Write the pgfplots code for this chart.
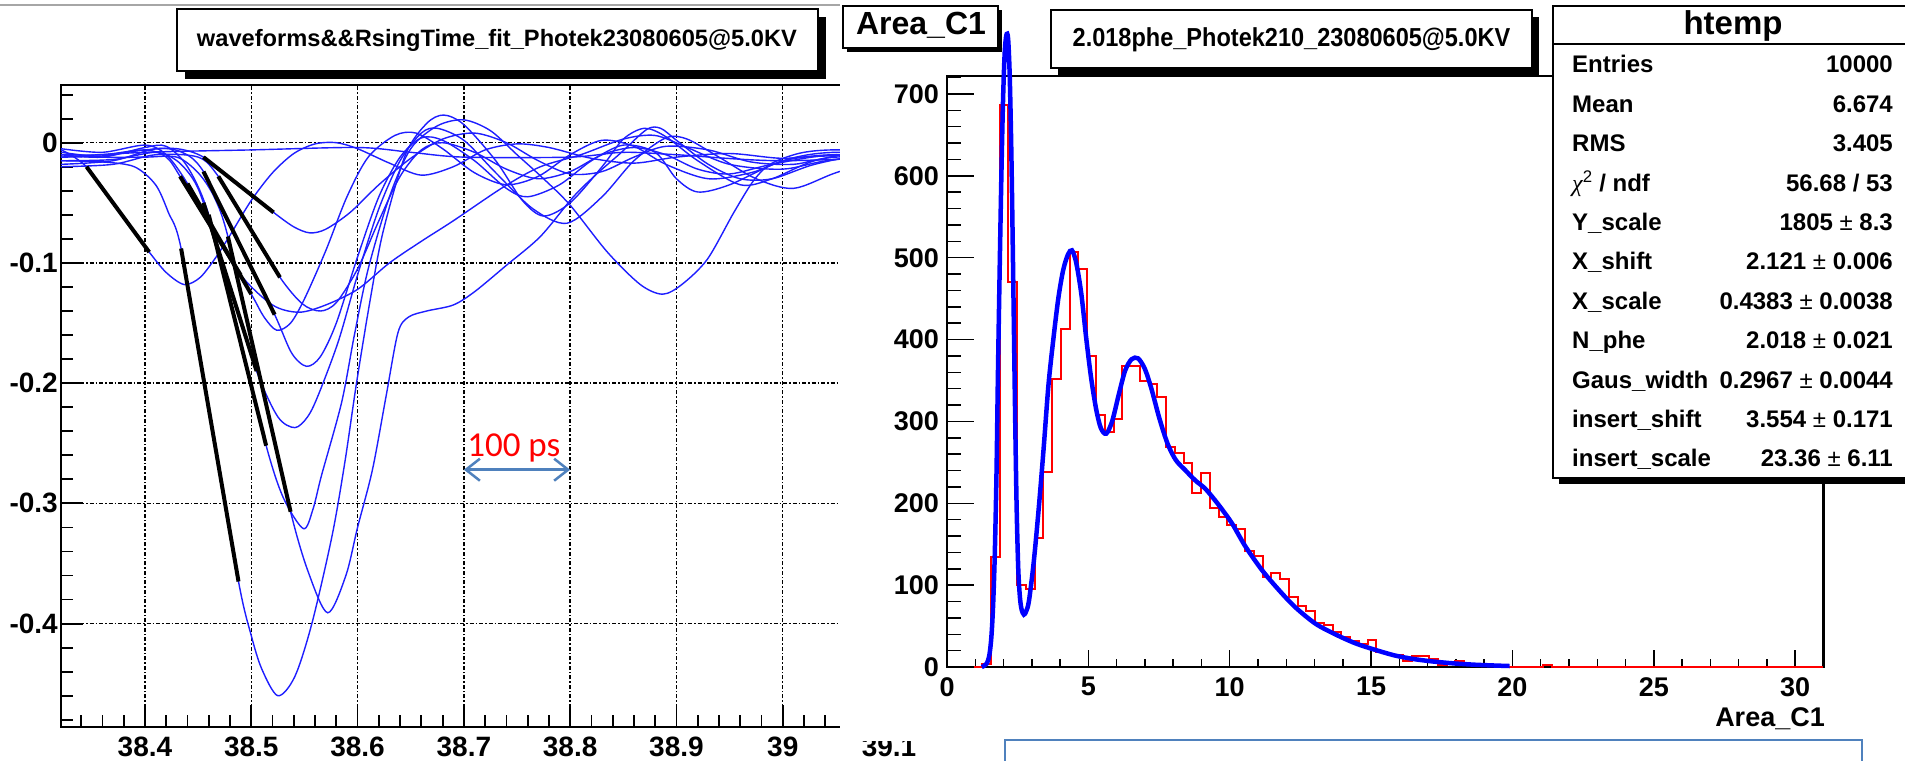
\documentclass[border=0pt]{standalone}
\usepackage{pgfplots}
\pgfplotsset{compat=1.18}
\usetikzlibrary{arrows.meta}
\usepackage{fontspec}
\setmainfont{Liberation Sans}
\newfontfamily\carlito{Carlito}
\newfontfamily\lserif{Liberation Serif}
\definecolor{wave}{RGB}{30,30,255}
\definecolor{steel}{RGB}{79,129,189}
\definecolor{fitblue}{RGB}{0,0,255}
\pgfplotsset{wv/.style={color=wave, line width=1.4pt, smooth, mark=none, solid},
             fl/.style={color=black, line width=4pt, mark=none, solid}}
\begin{document}
\begin{tikzpicture}[x=1pt,y=1pt]
\useasboundingbox (0,0) rectangle (1905,760);
\fill[white] (0,0) rectangle (1905,760);
% ---------------- left panel ----------------
\begin{axis}[
  at={(61pt,33pt)}, anchor=south west, scale only axis,
  width=881.2pt, height=642pt,
  xmin=38.321, xmax=39.15, ymin=-0.486, ymax=0.048,
  xtick={38.4,38.5,38.6,38.7,38.8,38.9,39.0,39.1},
  xticklabels={38.4,38.5,38.6,38.7,38.8,38.9,39,39.1},
  minor xtick={38.34,38.36,...,39.14},
  ytick={-0.4,-0.3,-0.2,-0.1,0},
  yticklabels={-0.4,-0.3,-0.2,-0.1,0},
  minor ytick={-0.48,-0.46,...,0.04},
  grid=major,
  major grid style={black, line width=1.4pt, dash pattern=on 4pt off 2pt on 1.5pt off 2pt},
  tick align=inside, xtick pos=left, ytick pos=left,
  major tick length=22pt, minor tick length=12pt,
  every tick/.style={black, line width=1.8pt},
  axis line style={line width=2.5pt},
  tick label style={font=\fontsize{28}{32}\selectfont\bfseries},
  xticklabel style={inner sep=0pt, anchor=north, yshift=-10pt},
  yticklabel style={inner sep=0pt, anchor=east, xshift=-3pt},
]
% W1 early pulse
\addplot[wv] coordinates {(38.321,-0.006) (38.33,-0.010) (38.345,-0.020) (38.36,-0.038) (38.38,-0.063) (38.404,-0.091) (38.42,-0.108) (38.437,-0.118) (38.452,-0.112) (38.467,-0.095) (38.48,-0.077) (38.50,-0.048) (38.52,-0.025) (38.54,-0.009) (38.56,-0.001) (38.58,0.000) (38.60,-0.005) (38.63,-0.017) (38.66,-0.027) (38.69,-0.020) (38.72,-0.006) (38.75,-0.001) (38.78,-0.004) (38.82,-0.013) (38.86,-0.017) (38.90,-0.012) (38.95,-0.009) (39.00,-0.013) (39.05,-0.010) (39.15,-0.012)};
% W2 shallow
\addplot[wv] coordinates {(38.321,-0.012) (38.36,-0.011) (38.40,-0.006) (38.43,-0.005) (38.455,-0.012) (38.488,-0.035) (38.521,-0.058) (38.54,-0.070) (38.555,-0.075) (38.57,-0.072) (38.593,-0.058) (38.62,-0.035) (38.65,-0.013) (38.68,0.003) (38.71,0.008) (38.74,0.000) (38.77,-0.015) (38.80,-0.026) (38.83,-0.024) (38.86,-0.012) (38.89,-0.003) (38.93,-0.006) (38.97,-0.016) (39.01,-0.018) (39.05,-0.012) (39.15,-0.010)};
% W3 deepest
\addplot[wv] coordinates {(38.321,-0.015) (38.36,-0.016) (38.39,-0.020) (38.41,-0.035) (38.422,-0.058) (38.434,-0.088) (38.46,-0.22) (38.488,-0.365) (38.50,-0.41) (38.51,-0.438) (38.525,-0.460) (38.541,-0.444) (38.557,-0.40) (38.576,-0.327) (38.588,-0.266) (38.599,-0.20) (38.612,-0.13) (38.624,-0.074) (38.645,-0.010) (38.665,0.016) (38.681,0.023) (38.70,0.015) (38.73,-0.015) (38.755,-0.048) (38.775,-0.061) (38.80,-0.050) (38.83,-0.02) (38.85,0.003) (38.87,0.012) (38.89,0.005) (38.92,-0.015) (38.96,-0.035) (38.99,-0.03) (39.03,-0.015) (39.08,-0.008) (39.15,-0.012)};
% W6 min -0.32, late undershoot
\addplot[wv] coordinates {(38.321,-0.010) (38.36,-0.012) (38.40,-0.004) (38.42,-0.003) (38.44,-0.02) (38.46,-0.060) (38.487,-0.156) (38.514,-0.252) (38.53,-0.295) (38.549,-0.321) (38.558,-0.305) (38.566,-0.277) (38.585,-0.216) (38.597,-0.160) (38.61,-0.105) (38.63,-0.045) (38.65,-0.005) (38.675,0.014) (38.70,0.019) (38.725,0.010) (38.75,-0.010) (38.775,-0.030) (38.80,-0.052) (38.835,-0.091) (38.866,-0.118) (38.887,-0.126) (38.905,-0.118) (38.929,-0.097) (38.954,-0.058) (38.973,-0.031) (38.99,-0.017) (39.02,-0.008) (39.06,-0.006) (39.15,-0.010)};
% W7 min -0.39 with shelf
\addplot[wv] coordinates {(38.321,-0.008) (38.36,-0.012) (38.40,-0.012) (38.43,-0.012) (38.45,-0.025) (38.465,-0.045) (38.478,-0.078) (38.507,-0.19) (38.537,-0.307) (38.554,-0.358) (38.572,-0.391) (38.589,-0.360) (38.60,-0.32) (38.614,-0.272) (38.627,-0.210) (38.638,-0.158) (38.648,-0.145) (38.665,-0.140) (38.69,-0.135) (38.71,-0.124) (38.74,-0.102) (38.772,-0.078) (38.803,-0.045) (38.825,-0.026) (38.847,-0.009) (38.872,0.011) (38.885,0.012) (38.90,0.002) (38.93,-0.018) (38.96,-0.030) (38.99,-0.03) (39.03,-0.018) (39.08,-0.010) (39.15,-0.010)};
% W8 min -0.237
\addplot[wv] coordinates {(38.321,-0.015) (38.37,-0.014) (38.41,-0.008) (38.43,-0.015) (38.445,-0.030) (38.455,-0.050) (38.48,-0.12) (38.505,-0.190) (38.525,-0.228) (38.541,-0.237) (38.553,-0.228) (38.563,-0.210) (38.582,-0.165) (38.60,-0.11) (38.62,-0.055) (38.64,-0.015) (38.66,0.008) (38.675,0.012) (38.70,0.002) (38.73,-0.025) (38.765,-0.055) (38.797,-0.067) (38.83,-0.045) (38.86,-0.015) (38.89,0.004) (38.91,0.003) (38.94,-0.012) (38.975,-0.030) (39.01,-0.038) (39.05,-0.025) (39.10,-0.012) (39.15,-0.010)};
% W4 min -0.187
\addplot[wv] coordinates {(38.321,-0.018) (38.37,-0.015) (38.41,-0.005) (38.435,-0.008) (38.455,-0.024) (38.49,-0.085) (38.522,-0.143) (38.538,-0.175) (38.552,-0.186) (38.565,-0.178) (38.58,-0.15) (38.60,-0.095) (38.62,-0.045) (38.64,-0.012) (38.66,0.004) (38.68,0.002) (38.71,-0.015) (38.74,-0.038) (38.76,-0.045) (38.79,-0.035) (38.82,-0.015) (38.85,-0.002) (38.88,-0.008) (38.90,-0.030) (38.92,-0.041) (38.95,-0.035) (39.0,-0.015) (39.05,-0.008) (39.15,-0.012)};
% W10 min -0.156
\addplot[wv] coordinates {(38.321,-0.005) (38.36,-0.008) (38.40,-0.002) (38.42,-0.010) (38.44,-0.034) (38.47,-0.082) (38.50,-0.126) (38.512,-0.145) (38.524,-0.156) (38.537,-0.150) (38.55,-0.13) (38.57,-0.09) (38.59,-0.045) (38.61,-0.012) (38.635,0.006) (38.655,0.008) (38.68,-0.005) (38.71,-0.025) (38.74,-0.035) (38.77,-0.028) (38.80,-0.010) (38.83,0.002) (38.86,-0.003) (38.89,-0.018) (38.93,-0.030) (38.97,-0.025) (39.02,-0.012) (39.15,-0.010)};
% W5 min -0.14
\addplot[wv] coordinates {(38.321,-0.020) (38.37,-0.018) (38.41,-0.010) (38.45,-0.012) (38.469,-0.028) (38.50,-0.072) (38.527,-0.112) (38.548,-0.134) (38.565,-0.140) (38.58,-0.133) (38.60,-0.105) (38.62,-0.065) (38.64,-0.028) (38.66,-0.006) (38.68,0.000) (38.71,-0.008) (38.74,-0.022) (38.77,-0.030) (38.80,-0.024) (38.83,-0.010) (38.86,-0.004) (38.89,-0.010) (38.92,-0.022) (38.95,-0.026) (38.99,-0.018) (39.05,-0.010) (39.15,-0.012)};
% W9 min -0.14 slow recovery
\addplot[wv] coordinates {(38.321,-0.010) (38.36,-0.010) (38.40,-0.006) (38.42,-0.012) (38.433,-0.028) (38.46,-0.068) (38.49,-0.110) (38.52,-0.135) (38.545,-0.141) (38.57,-0.135) (38.60,-0.122) (38.63,-0.100) (38.66,-0.082) (38.69,-0.065) (38.737,-0.037) (38.772,-0.020) (38.81,-0.010) (38.85,0.003) (38.88,0.006) (38.91,-0.004) (38.95,-0.018) (39.0,-0.022) (39.05,-0.014) (39.15,-0.010)};
% W11 flat trace
\addplot[wv] coordinates {(38.321,-0.012) (38.40,-0.008) (38.50,-0.006) (38.60,-0.004) (38.65,-0.008) (38.70,-0.012) (38.80,-0.012) (38.85,-0.008) (38.90,-0.010) (39.00,-0.015) (39.15,-0.010)};
% black rising-edge fit lines
\addplot[fl] coordinates {(38.345,-0.020) (38.404,-0.091)};
\addplot[fl] coordinates {(38.455,-0.012) (38.521,-0.058)};
\addplot[fl] coordinates {(38.434,-0.088) (38.488,-0.365)};
\addplot[fl] coordinates {(38.455,-0.024) (38.522,-0.143)};
\addplot[fl] coordinates {(38.469,-0.028) (38.527,-0.112)};
\addplot[fl] coordinates {(38.460,-0.060) (38.514,-0.252)};
\addplot[fl] coordinates {(38.478,-0.078) (38.537,-0.307)};
\addplot[fl] coordinates {(38.455,-0.050) (38.505,-0.190)};
\addplot[fl] coordinates {(38.433,-0.028) (38.490,-0.110)};
\addplot[fl] coordinates {(38.440,-0.034) (38.500,-0.126)};
% annotation
\draw[steel, line width=2.5pt, {Straight Barb[length=14pt,width=22pt]}-{Straight Barb[length=14pt,width=22pt]}] (axis cs:38.7,-0.272) -- (axis cs:38.8,-0.272);
\node[anchor=base west, inner sep=0pt, text=red, font=\carlito\fontsize{35}{40}\selectfont] at (axis cs:38.703,-0.261) {100 ps};
\end{axis}
% top grey rule
\draw[black!35, line width=2pt] (0,755) -- (840,755);
% left title box
\fill[black] (185,681) rectangle (826,743);
\draw[black, line width=1.5pt, fill=white] (177,689) rectangle (818,751);
\node[anchor=base, inner sep=0pt] at (497,713) {\resizebox{600pt}{!}{\fontsize{24}{28}\selectfont\bfseries waveforms\&\&RsingTime\_fit\_Photek23080605@5.0KV}};
% right panel background
\fill[white] (840,19) rectangle (1905,760);
% ---------------- right panel ----------------
\begin{axis}[
  at={(947pt,93pt)}, anchor=south west, scale only axis,
  width=876.4pt, height=591pt,
  xmin=0, xmax=31, ymin=0, ymax=722,
  xtick={0,5,10,15,20,25,30}, xticklabels={0,5,10,15,20,25,30},
  minor xtick={1,2,3,4,6,7,8,9,11,12,13,14,16,17,18,19,21,22,23,24,26,27,28,29},
  ytick=\empty,
  tick align=inside, xtick pos=left,
  major tick length=17pt, minor tick length=8pt,
  every tick/.style={black, line width=1.5pt},
  axis line style={line width=2.2pt},
  tick label style={font=\fontsize{27}{31}\selectfont\bfseries},
  xticklabel style={inner sep=0pt, anchor=north, yshift=-10pt},
  clip=false,
]
\addplot[red, line width=2pt, const plot, mark=none] coordinates {(0,0) (1.24,4) (1.55,134) (1.86,686) (2.17,470) (2.48,100) (2.79,95) (3.10,158) (3.41,238) (3.72,352) (4.03,413) (4.34,507) (4.65,486) (4.96,380) (5.27,308) (5.58,287) (5.89,303) (6.20,368) (6.51,368) (6.82,350) (7.13,346) (7.44,330) (7.75,269) (8.06,262) (8.37,249) (8.68,212) (8.99,237) (9.30,194) (9.61,183) (9.92,174) (10.23,168) (10.54,142) (10.85,135) (11.16,110) (11.47,115) (11.78,107) (12.09,85) (12.40,75) (12.71,69) (13.02,54) (13.33,51) (13.64,43) (13.95,37) (14.26,32) (14.57,28) (14.88,33) (15.19,18) (15.50,16) (15.81,15) (16.12,7) (16.43,13) (16.74,13) (17.05,10) (17.36,2) (17.67,6) (17.98,7) (18.29,3) (18.60,4) (18.91,2) (19.22,2) (19.53,1) (19.84,0) (21.08,2) (21.39,0) (31,0)};
\addplot[fitblue, line width=4.5pt, smooth, mark=none] coordinates {(1.23,0) (1.40,4) (1.50,15) (1.57,37) (1.63,75) (1.69,138) (1.75,235) (1.80,355) (1.86,480) (1.92,595) (1.98,690) (2.04,750) (2.10,772) (2.16,768) (2.22,720) (2.28,620) (2.34,480) (2.40,330) (2.46,200) (2.52,120) (2.58,85) (2.64,70) (2.72,64) (2.80,68) (2.90,81) (3.07,129) (3.25,196) (3.42,268) (3.59,345) (3.77,403) (3.94,451) (4.11,485) (4.28,504) (4.42,509) (4.57,494) (4.75,456) (4.92,403) (5.09,355) (5.27,316) (5.44,292) (5.63,285) (5.84,300) (6.07,332) (6.30,362) (6.53,376) (6.76,377) (7.00,364) (7.23,340) (7.51,304) (7.80,273) (8.09,253) (8.44,240) (8.78,228) (9.13,218) (9.45,205) (9.74,192) (10.09,175) (10.56,147) (11.15,118) (11.74,94) (12.32,73) (13.03,53) (13.73,40) (14.44,29) (15.14,21) (15.85,14) (16.55,9.5) (17.25,6.5) (17.96,4.3) (18.66,2.8) (19.37,1.8) (19.9,1.2)};
\end{axis}
\begin{axis}[
  at={(947pt,93pt)}, anchor=south west, scale only axis,
  width=876.4pt, height=591pt,
  xmin=0, xmax=31, ymin=0, ymax=722,
  xtick=\empty,
  ytick={0,100,200,300,400,500,600,700}, yticklabels={0,100,200,300,400,500,600,700},
  minor ytick={20,40,...,720},
  tick align=inside, ytick pos=left,
  major tick length=27pt, minor tick length=14pt,
  every tick/.style={black, line width=1.5pt},
  axis line style={draw=none},
  tick label style={font=\fontsize{27}{31}\selectfont\bfseries},
  yticklabel style={inner sep=0pt, anchor=east, xshift=-8pt},
]
\end{axis}
\node[anchor=base east, inner sep=0pt, font=\fontsize{27}{30}\selectfont\bfseries] at (1825,34) {Area\_C1};
% Area_C1 box
\fill[black] (847,708) rectangle (1002,750);
\draw[black, line width=1.5pt, fill=white] (843,712) rectangle (998,754);
\node[anchor=base, inner sep=0pt, font=\fontsize{32}{36}\selectfont\bfseries] at (921,725) {Area\_C1};
% right title box
\fill[black] (1058,685) rectangle (1539,743);
\draw[black, line width=1.5pt, fill=white] (1051,692) rectangle (1532,750);
\node[anchor=base, inner sep=0pt] at (1291.5,713) {\scalebox{0.905}[1]{\fontsize{26}{30}\selectfont\bfseries 2.018phe\_Photek210\_23080605@5.0KV}};
% stats box
\fill[black] (1559,276) rectangle (1915,748);
\draw[black, line width=2pt, fill=white] (1553,282) rectangle (1915,754);
\draw[black, line width=1.5pt] (1553,716) -- (1915,716);
\node[anchor=base, inner sep=0pt, font=\fontsize{33}{36}\selectfont\bfseries] at (1733,725) {htemp};
\begin{scope}[every node/.style={inner sep=0pt, font=\fontsize{24}{28}\selectfont\bfseries}]
\newcommand\srow[3]{%
  \node[anchor=base west] at (1572,{687-39.4*#1}) {#2};
  \node[anchor=base east] at (1893,{687-39.4*#1}) {#3};}
\srow{0}{Entries}{10000}
\srow{1}{Mean}{6.674}
\srow{2}{RMS}{3.405}
\srow{3}{{\lserif\itshape\mdseries χ}\textsuperscript{\mdseries 2} / ndf}{56.68 / 53}
\srow{4}{Y\_scale}{1805 {\mdseries ±} 8.3}
\srow{5}{X\_shift}{2.121 {\mdseries ±} 0.006}
\srow{6}{X\_scale}{0.4383 {\mdseries ±} 0.0038}
\srow{7}{N\_phe}{2.018 {\mdseries ±} 0.021}
\srow{8}{Gaus\_width}{0.2967 {\mdseries ±} 0.0044}
\srow{9}{insert\_shift}{3.554 {\mdseries ±} 0.171}
\srow{10}{insert\_scale}{23.36 {\mdseries ±} 6.11}
\end{scope}
% bottom blue box
\draw[steel, line width=2pt, fill=white] (1005,-10) rectangle (1862,20);
\end{tikzpicture}
\end{document}
